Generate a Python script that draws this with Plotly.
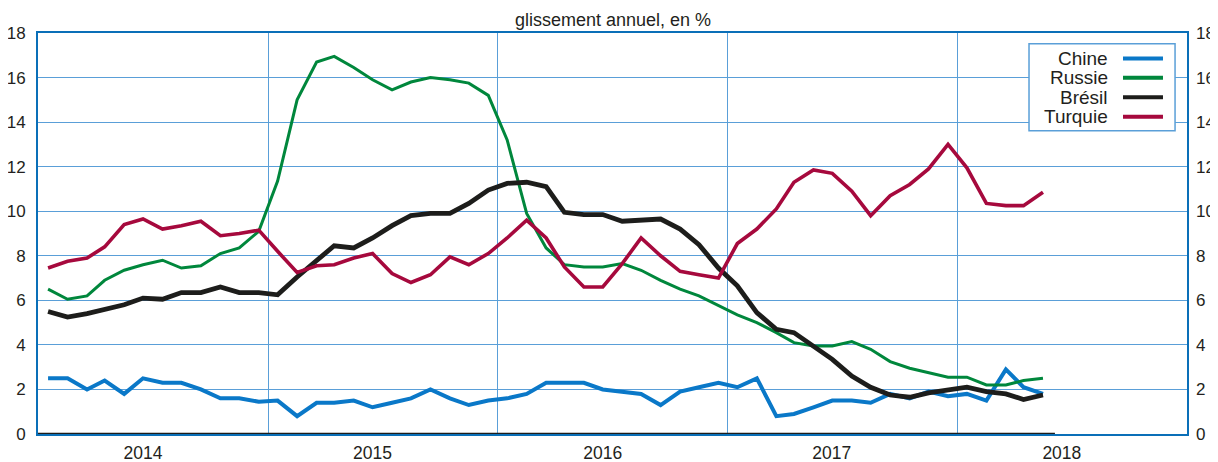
import pandas as pd
import plotly.graph_objects as go

# ---- data (monthly, Dec 2013 -> Apr 2018) ----
start_month = "2013-12-01"
n_months = 53
series_names = ["Chine", "Russie", "Brésil", "Turquie"]

chine = [2.5,
         2.5, 2.0, 2.4, 1.8, 2.5, 2.3, 2.3, 2.0, 1.6, 1.6, 1.45, 1.5,
         0.8, 1.4, 1.4, 1.5, 1.2, 1.4, 1.6, 2.0, 1.6, 1.3, 1.5, 1.6,
         1.8, 2.3, 2.3, 2.3, 2.0, 1.9, 1.8, 1.3, 1.9, 2.1, 2.3, 2.1,
         2.5, 0.8, 0.9, 1.2, 1.5, 1.5, 1.4, 1.8, 1.6, 1.9, 1.7, 1.8,
         1.5, 2.9, 2.1, 1.8]
russie = [6.5,
          6.05, 6.2, 6.9, 7.35, 7.6, 7.8, 7.45, 7.55, 8.1, 8.35, 9.1, 11.35,
          15.0, 16.7, 16.95, 16.45, 15.9, 15.45, 15.8, 16.0, 15.9, 15.75, 15.2, 13.2,
          9.9, 8.35, 7.6, 7.5, 7.5, 7.65, 7.35, 6.9, 6.5, 6.2, 5.75, 5.35,
          5.0, 4.55, 4.1, 3.95, 3.95, 4.15, 3.8, 3.25, 2.95, 2.75, 2.55, 2.55,
          2.2, 2.2, 2.4, 2.5]
bresil = [5.5,
          5.25, 5.4, 5.6, 5.8, 6.1, 6.05, 6.35, 6.35, 6.6, 6.35, 6.35, 6.25,
          7.05, 7.75, 8.45, 8.35, 8.8, 9.35, 9.8, 9.9, 9.9, 10.35, 10.95, 11.25,
          11.3, 11.1, 9.95, 9.85, 9.85, 9.55, 9.6, 9.65, 9.2, 8.5, 7.45, 6.65,
          5.45, 4.7, 4.55, 3.95, 3.35, 2.6, 2.1, 1.75, 1.65, 1.85, 1.95, 2.1,
          1.9, 1.8, 1.55, 1.75]
turquie = [7.45,
           7.75, 7.9, 8.4, 9.4, 9.65, 9.2, 9.35, 9.55, 8.9, 9.0, 9.15, 8.2,
           7.25, 7.55, 7.6, 7.9, 8.1, 7.2, 6.8, 7.15, 7.95, 7.6, 8.1, 8.8,
           9.6, 8.8, 7.5, 6.6, 6.6, 7.65, 8.8, 8.0, 7.3, 7.15, 7.0, 8.55,
           9.2, 10.1, 11.3, 11.85, 11.7, 10.9, 9.8, 10.7, 11.2, 11.9, 13.0, 11.95,
           10.35, 10.25, 10.25, 10.85]

year_labels = ["2014", "2015", "2016", "2017", "2018"]
year_label_dates = ["2014-05-01", "2015-05-01", "2016-05-01", "2017-04-30", "2018-05-01"]
year_grid_dates = ["2014-11-16", "2015-11-16", "2016-11-15", "2017-11-16"]
x_range = ["2013-11-15", "2018-11-16"]
y_ticks = list(range(0, 19, 2))

# ---- style ----
colors = ["#0a78c8", "#00873c", "#1d1d1b", "#a6093d"]
widths = [4, 3, 4.8, 3.6]
frame_blue = "#0a6fb8"
grid_blue = "#5a9fd8"
text_col = "#231f20"
font_family = "Liberation Sans, Arial, Helvetica, sans-serif"
x_tick_size = 17.5
y_tick_size = 17

dates = pd.date_range(start_month, periods=n_months, freq="MS")
values = [chine, russie, bresil, turquie]

fig = go.Figure()
for i, (name, vals) in enumerate(zip(series_names, values)):
    fig.add_trace(go.Scatter(
        x=dates, y=vals, name=name, mode="lines",
        line=dict(color=colors[i], width=widths[i]),
        yaxis="y2" if i == 3 else "y",
        showlegend=False,
    ))

# black baseline segment under the data span
end_line = dates[-1] + pd.Timedelta(days=19)
shapes = [dict(type="line", xref="x", yref="y", x0=x_range[0], x1=end_line,
               y0=0, y1=0, line=dict(color="#1d1d1b", width=2.5), layer="above")]

# manual legend (text left, line sample right)
lg_x0, lg_x1, lg_y0, lg_y1 = 0.8625, 0.9896, 0.7565, 0.9733
shapes.append(dict(type="rect", xref="paper", yref="paper",
                   x0=lg_x0, x1=lg_x1, y0=lg_y0, y1=lg_y1,
                   line=dict(color=grid_blue, width=1.5), fillcolor="white", layer="above"))
entry_y = [0.9367, 0.8886, 0.8395, 0.7914]
annotations = []
for i, name in enumerate(series_names):
    shapes.append(dict(type="line", xref="paper", yref="paper",
                       x0=0.9443, x1=0.9791, y0=entry_y[i], y1=entry_y[i],
                       line=dict(color=colors[i], width=4), layer="above"))
    annotations.append(dict(xref="paper", yref="paper", x=0.933, y=entry_y[i],
                            text=name, showarrow=False, xanchor="right", yanchor="middle",
                            font=dict(size=19, color=text_col, family=font_family)))

annotations.append(dict(xref="paper", yref="paper", x=0.5, y=1.033,
                        text="glissement annuel, en %", showarrow=False,
                        xanchor="center", yanchor="middle",
                        font=dict(size=18, color=text_col, family=font_family)))

# the page body has an 8px default margin: size the figure to fill the window
fig.update_layout(
    width=1210, height=454,
    margin=dict(l=30, r=31, t=25, b=27.5, pad=0, autoexpand=False),
    paper_bgcolor="white", plot_bgcolor="white",
    font=dict(family=font_family, size=y_tick_size, color=text_col),
    showlegend=False,
    shapes=shapes, annotations=annotations,
    xaxis=dict(
        type="date", range=x_range, automargin=False,
        tickmode="array", tickvals=year_label_dates, ticktext=year_labels,
        ticks="", showgrid=False, zeroline=False,
        showline=True, linecolor=frame_blue, linewidth=2, mirror=True,
        ticklabelstandoff=2,
        tickfont=dict(size=x_tick_size, color=text_col),
        minor=dict(tickmode="array", tickvals=year_grid_dates, showgrid=True,
                   gridcolor=grid_blue, gridwidth=1, ticks=""),
    ),
    yaxis=dict(
        range=[0, 18], tickmode="array", tickvals=y_ticks, automargin=False,
        ticks="", showgrid=True, gridcolor=grid_blue, gridwidth=1,
        zeroline=False, showline=True, linecolor=frame_blue, linewidth=2, mirror=True,
        ticklabelstandoff=7, tickfont=dict(size=y_tick_size, color=text_col),
    ),
    yaxis2=dict(
        range=[0, 18], tickmode="array", tickvals=y_ticks, automargin=False,
        overlaying="y", side="right", anchor="x",
        ticks="", showgrid=False, zeroline=False, showline=False,
        ticklabelstandoff=8, tickfont=dict(size=y_tick_size, color=text_col),
    ),
)

fig.write_html("out.html")
